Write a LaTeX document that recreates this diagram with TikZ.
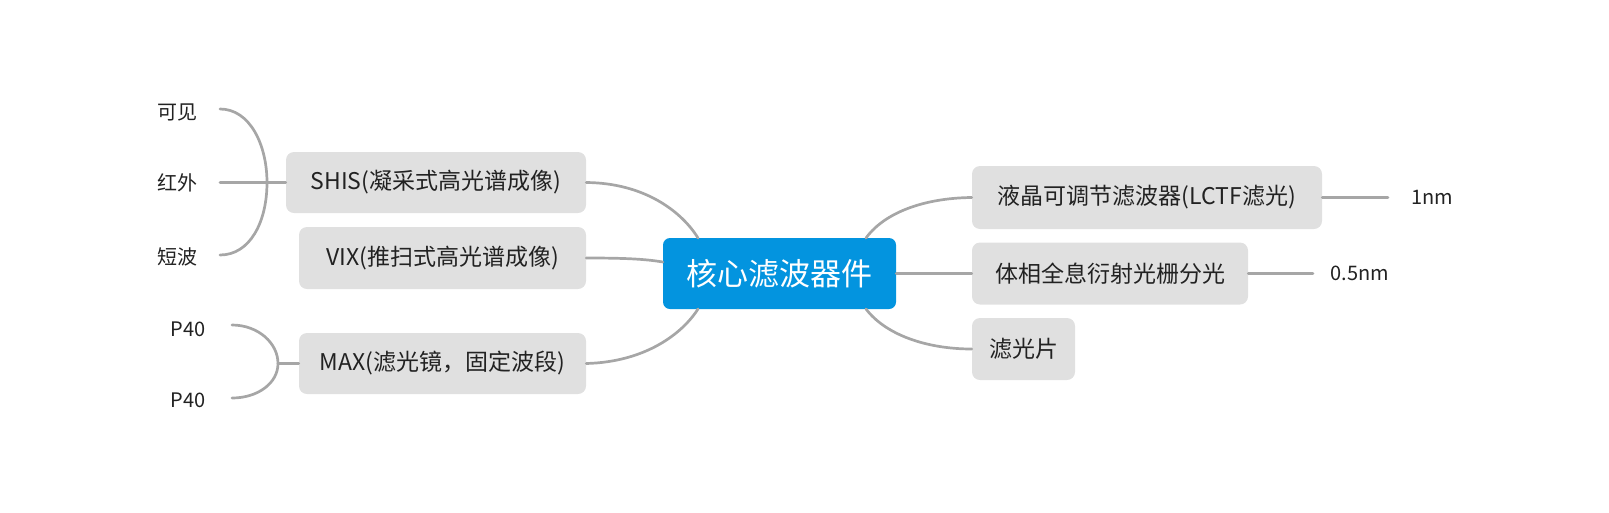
\documentclass[tikz,border=0pt]{standalone}
\usepackage{fontspec}
\setmainfont{Noto Sans CJK SC}
\definecolor{boxgray}{HTML}{E0E0E0}
\definecolor{linegray}{HTML}{A6A6A6}
\definecolor{coreblue}{HTML}{0394DF}
\definecolor{txt}{HTML}{222222}
\begin{document}
\begin{tikzpicture}[x=1pt,y=-1pt,
  topic/.style={fill=boxgray,rounded corners=8pt,inner sep=0pt,text=txt,font=\fontsize{23}{27}\selectfont},
  core/.style={fill=coreblue,rounded corners=7pt,inner sep=0pt,text=white,font=\fontsize{31}{36}\selectfont},
  leaf/.style={inner sep=0pt,text=txt,font=\fontsize{20}{24}\selectfont},
  conn/.style={draw=linegray,line width=2.7pt,line cap=round}]
\useasboundingbox (0,0) rectangle (1609,512);
% core
\node[core,minimum width=233pt,minimum height=71pt] (c) at (779.5,273.5) {核心滤波器件};
% left topics
\node[topic,minimum width=300pt,minimum height=61pt] (shis) at (436,182.5) {SHIS(凝采式高光谱成像)};
\node[topic,minimum width=287pt,minimum height=62pt] (vix) at (442.5,258) {VIX(推扫式高光谱成像)};
\node[topic,minimum width=287pt,minimum height=61pt] (max) at (442.5,363.5) {MAX(滤光镜，固定波段)};
% right topics
\node[topic,minimum width=350pt,minimum height=63pt] (lctf) at (1147,197.5) {液晶可调节滤波器(LCTF滤光)};
\node[topic,minimum width=276pt,minimum height=62pt] (vhg) at (1110,273.5) {体相全息衍射光栅分光};
\node[topic,minimum width=103pt,minimum height=62pt] (flt) at (1023.5,349) {滤光片};
% leaves
\node[leaf] (kj) at (177,112) {可见};
\node[leaf] (hw) at (177,183) {红外};
\node[leaf] (db) at (177,257) {短波};
\node[leaf] (p1) at (188,329) {P40};
\node[leaf] (p2) at (188,400) {P40};
\node[leaf] (n1) at (1432,197.5) {1nm};
\node[leaf] (n2) at (1360,273.5) {0.5nm};
% coordinates
\coordinate (kjE) at (220,109);
\coordinate (hwE) at (220,182.5);
\coordinate (dbE) at (220,255);
\coordinate (bj1) at (267,182.5);
\coordinate (p1E) at (232,325);
\coordinate (p2E) at (232,398);
\coordinate (bj2) at (278,363.5);
\coordinate (cTL) at (698,238);
\coordinate (cBL) at (698,309);
\coordinate (cTR) at (866,238);
\coordinate (cBR) at (866,309);
\coordinate (n1W) at (1388,197.5);
\coordinate (n2W) at (1313,273.5);
% center connectors
\draw[conn] (shis.east) .. controls (645,183) and (682,212) .. (cTL);
\draw[conn] (vix.east) .. controls (625,258) and (645,259) .. (c.west |- 0,262);
\draw[conn] (max.east) .. controls (645,362) and (682,334) .. (cBL);
\draw[conn] (cTR) .. controls (885,212) and (925,198) .. (lctf.west);
\draw[conn] (c.east |- vhg.west) -- (vhg.west);
\draw[conn] (cBR) .. controls (885,334) and (925,349) .. (flt.west);
% right leaves
\draw[conn] (lctf.east) -- (n1W);
\draw[conn] (vhg.east) -- (n2W);
% left bracket SHIS
\draw[conn] (kjE) .. controls (250,109) and (267,145) .. (bj1) .. controls (267,222) and (250,255) .. (dbE);
\draw[conn] (hwE) -- (shis.west);
% left bracket MAX
\draw[conn] (p1E) .. controls (258,325) and (278,343) .. (bj2) .. controls (278,383) and (258,398) .. (p2E);
\draw[conn] (bj2) -- (max.west);
\end{tikzpicture}
\end{document}
